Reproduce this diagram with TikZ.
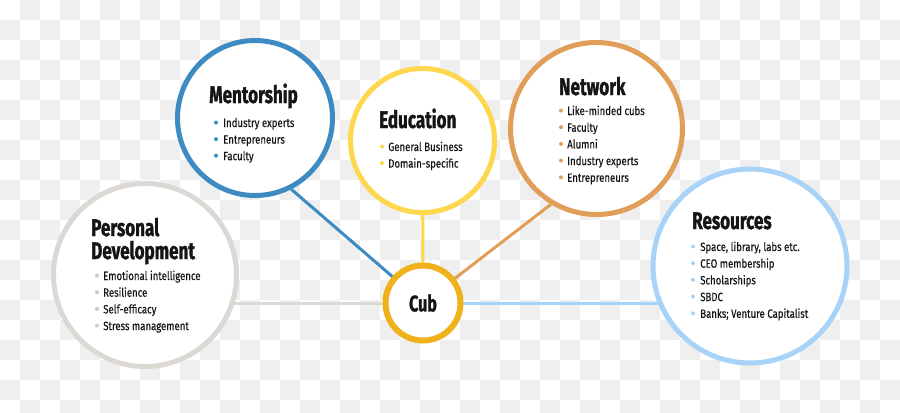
\documentclass[tikz,border=0pt]{standalone}
\usepackage{fontspec}
\setmainfont{Fira Sans}[FakeStretch=0.8, FakeBold=0.35]
\newfontfamily\headfont{Fira Sans}[FakeStretch=0.71, BoldFeatures={FakeBold=1.2}]
\usetikzlibrary{positioning}
\definecolor{ink}{HTML}{151515}
\definecolor{checkgray}{HTML}{EFEFEF}
\definecolor{mentorblue}{HTML}{3E8AC2}
\definecolor{eduyellow}{HTML}{FDD84E}
\definecolor{netorange}{HTML}{E09E58}
\definecolor{persgray}{HTML}{DCD8D4}
\definecolor{persdot}{HTML}{CFCBC7}
\definecolor{resblue}{HTML}{A6D3F7}
\definecolor{cubgold}{HTML}{F0B21A}
\pgfdeclarelayer{links}
\pgfdeclarelayer{front}
\pgfsetlayers{main,links,front}
\tikzset{
  bubble/.style={circle, draw=#1, fill=white, line width=3.75pt, inner sep=0pt},
  link/.style={draw=#1, line width=2.25pt},
  head/.style={anchor=base west, inner sep=0pt, text=ink, font=\headfont\bfseries\fontsize{18}{18}\selectfont},
  item/.style={anchor=base west, inner sep=0pt, text=ink, font=\fontsize{9}{12}\selectfont},
}

\begin{document}
\begin{tikzpicture}[x=0.75pt, y=-0.75pt]
    \fill [white] (0,0) rectangle (900,412);
    \begin{scope}
    \clip (0,0) rectangle (900,412);
    \foreach \i in {0,...,44} {
        \foreach \j in {0,...,20} {
            \pgfmathtruncatemacro{\odd}{mod(\i+\j,2)}
            \ifnum\odd=1
                \fill [checkgray] ({20*\i},{20*\j}) rectangle ({20*\i+20},{20*\j+20});
            \fi
        }
    }
    \end{scope}
    \useasboundingbox (0,0) rectangle (900,412);

    \begin{pgfonlayer}{front}
    \node [bubble=persgray, minimum size=137.25pt] (personal) at (145, 275) {};
    \node [bubble=mentorblue, minimum size=116.25pt] (mentor) at (255, 118) {};
    \node [bubble=eduyellow, minimum size=108pt] (educ) at (422.5, 140.5) {};
    \node [bubble=netorange, minimum size=129pt] (network) at (596.5, 128.5) {};
    \node [bubble=resblue, minimum size=145.5pt] (resources) at (750, 266) {};
    \node [bubble=cubgold, line width=4.5pt, minimum size=56.25pt] (cub) at (423, 303) {};
    \end{pgfonlayer}

    \begin{pgfonlayer}{links}
    \draw [link=persgray] (cub.center) -- (cub.center -| personal.center);
    \draw [link=resblue] (cub.center) -- (cub.center -| resources.center);
    \draw [link=mentorblue] (cub.center) -- (mentor.-63.5);
    \draw [link=eduyellow] (cub.center) -- (educ.center);
    \draw [link=netorange] (cub.center) -- (network.-121.3);
    \end{pgfonlayer}

    \begin{pgfonlayer}{front}
    \node [inner sep=0pt, text=ink, font=\headfont\bfseries\fontsize{17}{17}\selectfont] (cub-title) at (cub.center) {Cub};

    \node [head] (mentor-title) at (209, 103) {Mentorship};
    \foreach \t [count=\k] in {Industry experts, Entrepreneurs, Faculty} {
        \node [item] (mentor-\k) at (223, {127+16.6*(\k-1)}) {\t};
        \fill [mentorblue] (216, {122.5+16.6*(\k-1)}) circle (1.5pt);
    }

    \node [head] (educ-title) at (379, 128) {Education};
    \foreach \t [count=\k] in {General Business, Domain-specific} {
        \node [item] (educ-\k) at (388, {151+16.6*(\k-1)}) {\t};
        \fill [eduyellow] (382, {146.5+16.6*(\k-1)}) circle (1.5pt);
    }

    \node [head] (network-title) at (559, 95) {Network};
    \foreach \t [count=\k] in {Like-minded cubs, Faculty, Alumni, Industry experts, Entrepreneurs} {
        \node [item] (network-\k) at (567, {115+16.7*(\k-1)}) {\t};
        \fill [netorange] (561, {110.5+16.7*(\k-1)}) circle (1.5pt);
    }

    \node [head] (personal-title) at (91, 236) {Personal};
    \node [head] (personal-title2) at (91, 259) {Development};
    \foreach \t [count=\k] in {Emotional intelligence, Resilience, Self-efficacy, Stress management} {
        \node [item] (personal-\k) at (103, {280+16.7*(\k-1)}) {\t};
        \fill [persdot] (97, {275.5+16.7*(\k-1)}) circle (1.5pt);
    }

    \node [head] (resources-title) at (692, 229) {Resources};
    \foreach \t [count=\k] in {{Space, library, labs etc.}, CEO membership, Scholarships, SBDC, Banks; Venture Capitalist} {
        \node [item] (resources-\k) at (700, {251+16.7*(\k-1)}) {\t};
        \fill [resblue] (693, {246.5+16.7*(\k-1)}) circle (1.5pt);
    }
    \end{pgfonlayer}
\end{tikzpicture}
\end{document}
